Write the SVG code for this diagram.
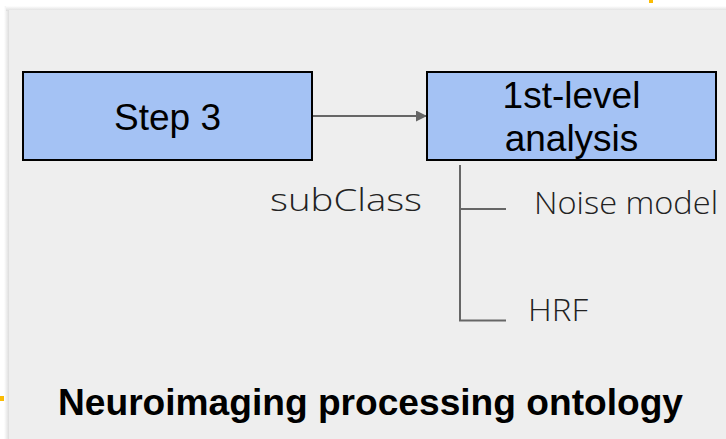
<svg xmlns="http://www.w3.org/2000/svg" width="726" height="439" viewBox="0 0 726 439">
<defs>
<linearGradient id="shL" x1="0" y1="0" x2="1" y2="0">
<stop offset="0" stop-color="#ffffff"/><stop offset="1" stop-color="#d6d6d6"/>
</linearGradient>
<linearGradient id="shT" x1="0" y1="0" x2="0" y2="1">
<stop offset="0" stop-color="#ffffff"/><stop offset="1" stop-color="#dcdcdc"/>
</linearGradient>
<marker id="arr" viewBox="0 0 10 10" refX="10" refY="5" markerWidth="5.5" markerHeight="5.5" orient="auto" markerUnits="strokeWidth">
<path d="M0,0 L10,5 L0,10 z" fill="#666666"/>
</marker>
<style>
.box{fill:#a4c2f4;stroke:#000000;stroke-width:2}
.lbl{font-family:"Liberation Sans",Arial,sans-serif;font-size:37px;fill:#000000;text-anchor:middle}
.lite{font-family:"Open Sans",Lato,sans-serif;font-weight:300;font-size:31px;fill:#222222}
.con{stroke:#666666;stroke-width:2;fill:none}
.title{font-family:"Liberation Sans",Arial,sans-serif;font-weight:bold;font-size:36px;fill:#000000}
</style>
</defs>
<rect x="0" y="0" width="726" height="439" fill="#ffffff"/>
<rect x="4" y="6" width="6" height="433" fill="url(#shL)"/>
<rect x="6" y="6" width="720" height="5" fill="url(#shT)"/>
<rect x="9" y="10" width="717" height="429" fill="#eeeeee"/>
<rect x="649" y="0" width="4" height="3" fill="#fbbc04"/>
<rect x="0" y="396" width="4" height="5" fill="#fbbc04"/>
<g id="connectors">
<line class="con" x1="312" y1="116" x2="427" y2="116" marker-end="url(#arr)"/>
<polyline class="con" points="460,165 460,320.5 506,320.5"/>
<line class="con" x1="460" y1="209" x2="506" y2="209"/>
</g>
<g id="step3">
<rect class="box" x="23" y="72" width="289" height="88"/>
<text class="lbl" x="167.5" y="130">Step 3</text>
</g>
<g id="firstlevel">
<rect class="box" x="427" y="72" width="289" height="88"/>
<text class="lbl" x="571.5" y="107.5">1st-level</text>
<text class="lbl" x="571.5" y="150.5">analysis</text>
</g>
<g id="subclass">
<text class="lite" x="270" y="211" textLength="152" lengthAdjust="spacingAndGlyphs">subClass</text>
</g>
<g id="noise">
<text class="lite" x="534" y="214" textLength="184" lengthAdjust="spacingAndGlyphs">Noise model</text>
</g>
<g id="hrf">
<text class="lite" x="528" y="321" textLength="60" lengthAdjust="spacingAndGlyphs">HRF</text>
</g>
<g id="title">
<text class="title" x="58" y="415" textLength="625" lengthAdjust="spacingAndGlyphs">Neuroimaging processing ontology</text>
</g>
</svg>
